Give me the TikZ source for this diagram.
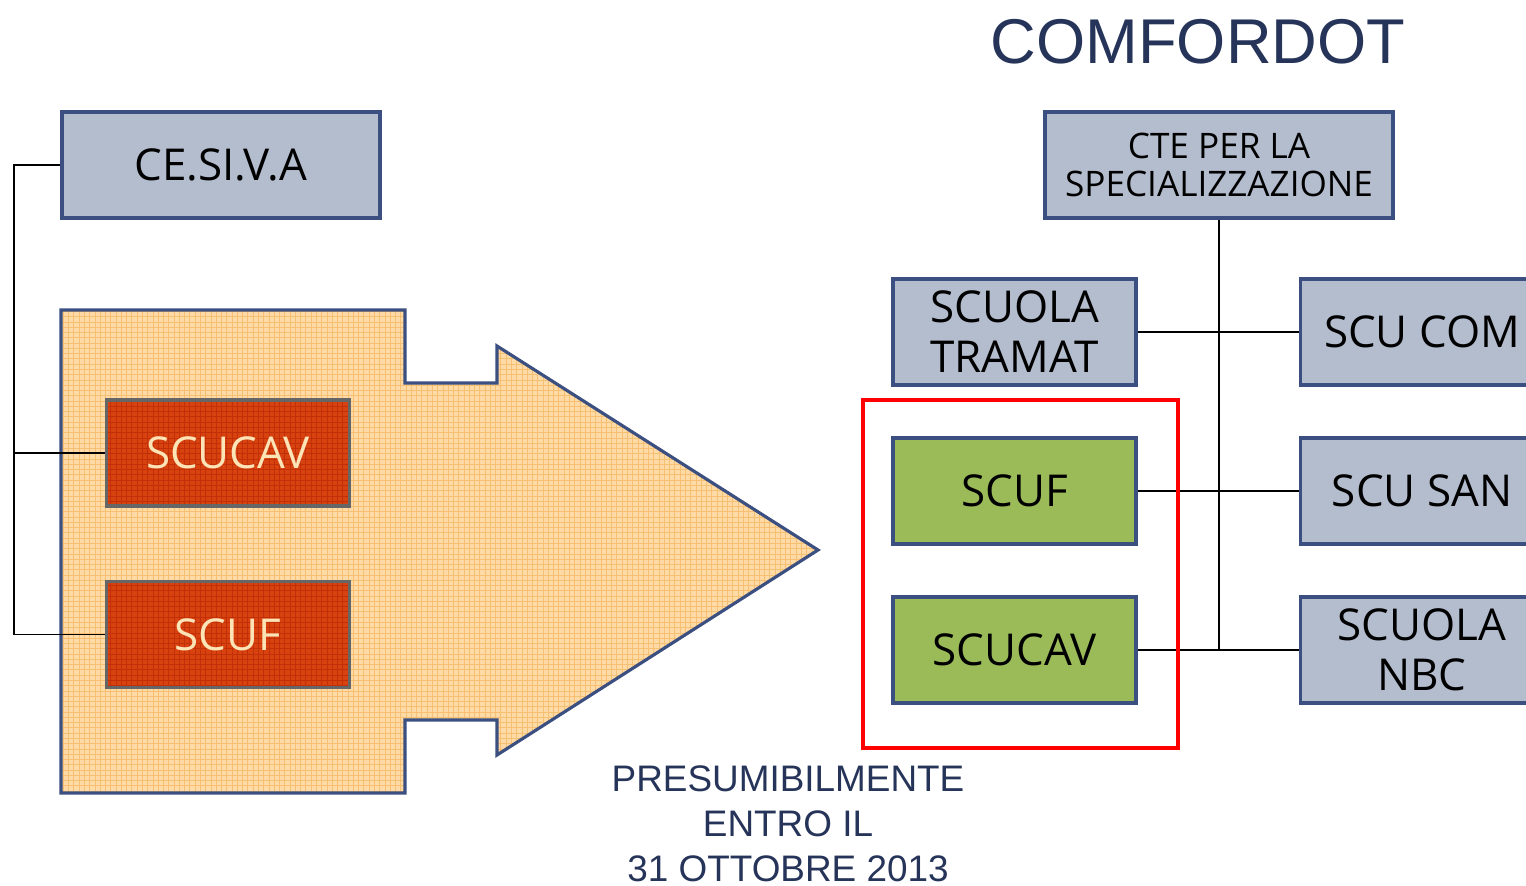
\documentclass[tikz,border=0pt]{standalone}
\usepackage{fontspec}
\setmainfont{Liberation Sans}
\newfontfamily\boxfont{Open Sans}
\usetikzlibrary{positioning,patterns}
\definecolor{boxgray}{HTML}{B4BDCE}
\definecolor{boxedge}{HTML}{3B4F81}
\definecolor{schoolgreen}{HTML}{9BBB59}
\definecolor{oldred}{HTML}{D8420E}
\definecolor{oldredgrid}{HTML}{C2300A}
\definecolor{oldredtext}{HTML}{FCE4B6}
\definecolor{arrowfill}{HTML}{FDDAA6}
\definecolor{arrowgrid}{HTML}{F6BF72}
\definecolor{navytext}{HTML}{263459}
\tikzset{node distance=31.8mm, auto}
\tikzset{
  unitbox/.style={draw=boxedge, line width=2.2pt, minimum width=48.6mm,
    minimum height=21.2mm, inner sep=0pt, align=center,
    font=\boxfont\fontsize{25}{28.5}\selectfont},
  graybox/.style={unitbox, fill=boxgray},
  greenbox/.style={unitbox, fill=schoolgreen},
  redbox/.style={unitbox, draw=black!60, line width=1.8pt,
    preaction={fill=oldred}, preaction={pattern=grid, pattern color=oldredgrid},
    text=oldredtext},
  arrowshape/.style={draw=boxedge, line width=1.8pt,
    preaction={fill=arrowfill}, preaction={pattern=grid, pattern color=arrowgrid}},
  link/.style={draw=black, line width=1.1pt},
  redframe/.style={draw=red, line width=1.8pt}
}

\begin{document}
\begin{tikzpicture}[x=0.2mm, y=-0.2mm]

  \useasboundingbox (0,0) rectangle (1526,886);

  \draw[arrowshape] (61,310) -- (405,310) -- (405,383) -- (497,383)
    -- (497,346) -- (818,550) -- (497,755) -- (497,720) -- (405,720)
    -- (405,793) -- (61,793) -- cycle;

  \node[graybox, minimum width=63.6mm] (cesiva) at (221,165) {CE.SI.V.A};
  \node[redbox] (scucavL) at (228,453) {SCUCAV};
  \node[redbox, node distance=36.3mm, below of=scucavL] (scufL) {SCUF};
  \coordinate (spine) at (14,165);

  \draw[link] (cesiva.west) -- (spine) |- (scufL.west);
  \draw[link] (spine |- scucavL.west) -- (scucavL.west);

  \node[text=navytext, font=\fontsize{36}{40}\selectfont] (title) at (1198,42) {COMFORDOT};
  \node[graybox, minimum width=69.6mm, font=\boxfont\fontsize{20}{21.6}\selectfont]
    (cte) at (1219,165) {CTE PER LA\\SPECIALIZZAZIONE};
  \node[graybox] (tramat) at (1014.5,332) {SCUOLA\\TRAMAT};
  \node[greenbox, below of=tramat] (scufR) {SCUF};
  \node[greenbox, below of=scufR] (scucavR) {SCUCAV};
  \node[graybox, node distance=81.5mm, right of=tramat] (scucom) {SCU COM};
  \node[graybox, node distance=81.5mm, right of=scufR] (scusan) {SCU SAN};
  \node[graybox, node distance=81.5mm, right of=scucavR] (nbc) {SCUOLA\\NBC};

  \draw[link] (cte.south) -- (cte.south |- nbc.west);
  \draw[link] (tramat.east) -- (scucom.west);
  \draw[link] (scufR.east) -- (scusan.west);
  \draw[link] (scucavR.east) -- (nbc.west);

  \draw[redframe] (863,400) rectangle (1178,748);

  \node[text=navytext, align=center, inner sep=0pt, font=\fontsize{21}{25.6}\selectfont]
    (note) at (788,824) {PRESUMIBILMENTE\\ENTRO IL\\31 OTTOBRE 2013};

\end{tikzpicture}
\end{document}
